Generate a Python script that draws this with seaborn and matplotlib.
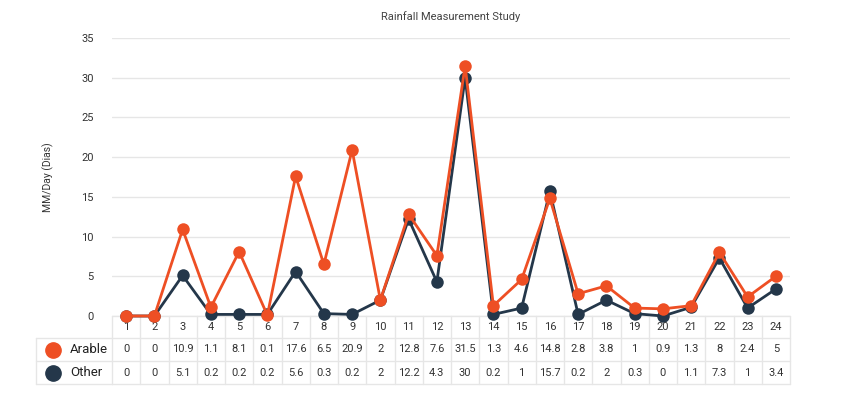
import pandas as pd
import matplotlib.pyplot as plt
import matplotlib.transforms as mtransforms
import seaborn as sns

# DATA
days = list(range(1, 25))
arable = [0, 0, 10.9, 1.1, 8.1, 0.1, 17.6, 6.5, 20.9, 2, 12.8, 7.6,
          31.5, 1.3, 4.6, 14.8, 2.8, 3.8, 1, 0.9, 1.3, 8, 2.4, 5]
other = [0, 0, 5.1, 0.2, 0.2, 0.2, 5.6, 0.3, 0.2, 2, 12.2, 4.3,
         30, 0.2, 1, 15.7, 0.2, 2, 0.3, 0, 1.1, 7.3, 1, 3.4]
series_names = ["Arable", "Other"]
colors = {"Arable": "#EE4F24", "Other": "#24374A"}

df = pd.DataFrame({"day": days, "Arable": arable, "Other": other})
long = df.melt(id_vars="day", var_name="series", value_name="mm")

sns.set_style("white")
plt.rcParams['font.family'] = ['Roboto', 'DejaVu Sans']

fig = plt.figure(figsize=(8.49, 3.93), dpi=100)
ax = fig.add_axes([112/849, 1-316/393, 678/849, 278/393])

# OTHER first, ARABLE on top
for name, z in [("Other", 3), ("Arable", 4)]:
    sub = long[long.series == name]
    sns.lineplot(data=sub, x="day", y="mm", ax=ax, color=colors[name],
                 linewidth=2.0, marker="o", markersize=9,
                 markeredgewidth=0, zorder=z, legend=False)

ax.set_xlim(0.5, 24.5)
ax.set_ylim(0, 35)
ax.set_yticks(range(0, 36, 5))
ax.set_xticks([])
ax.set_xlabel("")
ax.set_ylabel("MM/Day (Dias)", fontsize=7.5, color="#333333", labelpad=20)
ax.tick_params(axis="y", length=0, labelsize=8, labelcolor="#333333", pad=13)
ax.grid(axis="y", color="#e6e6e6", linewidth=1)
for s in ax.spines.values():
    s.set_visible(False)
for line in ax.get_lines():
    line.set_clip_on(False)

fig.text(451/849, 1-17/393, "Rainfall Measurement Study",
         ha="center", va="center", fontsize=8, color="#444444")

# DATA TABLE UNDER THE CHART
trans = mtransforms.blended_transform_factory(ax.transData, fig.transFigure)
grid_kw = dict(color="#e6e6e6", linewidth=1, clip_on=False)
y_rows = [1-316/393, 1-338/393, 1-361/393, 1-384/393]
for yb in y_rows:
    ax.plot([0.5, 24.5], [yb, yb], transform=trans, **grid_kw)
for i in range(25):
    ax.plot([i + 0.5, i + 0.5], [y_rows[0], y_rows[-1]], transform=trans, **grid_kw)

y_cat = 1-327/393
y_text = [1-349.5/393, 1-372.5/393]
for d in days:
    ax.text(d, y_cat, str(d), transform=trans, ha="center", va="center",
            fontsize=8, color="#333333")
for vals, yt in zip([arable, other], y_text):
    for d, v in zip(days, vals):
        ax.text(d, yt, f"{v:g}", transform=trans, ha="center", va="center",
                fontsize=8, color="#333333")

# LEGEND CELLS
x0, x1 = 36/849, 112/849
for yb in y_rows[1:]:
    fig.add_artist(plt.Line2D([x0, x1], [yb, yb], transform=fig.transFigure,
                              color="#e6e6e6", linewidth=1))
fig.add_artist(plt.Line2D([x0, x0], [y_rows[1], y_rows[3]], transform=fig.transFigure,
                          color="#e6e6e6", linewidth=1))
for name, yt in zip(series_names, y_text):
    fig.add_artist(plt.Line2D([53/849], [yt], transform=fig.transFigure, marker="o",
                              markersize=11, color=colors[name], linestyle=""))
    fig.text(70/849, yt, name, ha="left", va="center", fontsize=9.5, color="#222222")

plt.savefig("out.png", dpi=100)
